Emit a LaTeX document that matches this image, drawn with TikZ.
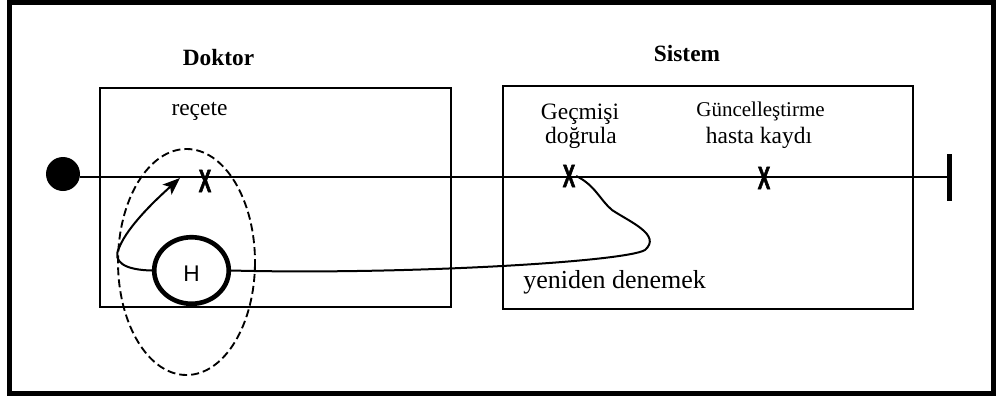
\documentclass[tikz,border=0pt]{standalone}
\usepackage{fontspec}
\setmainfont{Liberation Serif}
\setsansfont{Liberation Sans}
\newfontfamily\markfont{Liberation Sans Bold}[FakeBold=2.5]
\usetikzlibrary{arrows.meta,shapes.geometric}

\begin{document}
\begin{tikzpicture}[x=0.75pt,y=0.75pt,yscale=-1,xscale=1,
    lane/.style={line width=1.3pt},
    lanetitle/.style={anchor=base, inner sep=0pt, font=\fontsize{17.5pt}{21pt}\selectfont\bfseries},
    steptext/.style={anchor=base, inner sep=0pt, font=\fontsize{17.6pt}{21pt}\selectfont},
    xmark/.style={inner sep=0.5pt, font=\fontsize{24pt}{24pt}\selectfont\markfont},
    flow/.style={line width=1.5pt}]
    \useasboundingbox (0,0) rectangle (998,396);

    %Shape: Rectangle [frame]
    \draw [line width=3.75pt] (9.5,2.5) rectangle (993.5,393.5);
    %Shape: Rectangle [Doktor]
    \draw [lane] (100,88) rectangle (451,307);
    %Shape: Rectangle [Sistem]
    \draw [lane] (503,86) rectangle (913,309);

    %Shape: Circle [start]
    \node (start) [circle, fill=black, inner sep=0pt, minimum size=25.5pt] at (63,174) {};
    %Shape: Rectangle [stop]
    \node (stop) [rectangle, fill=black, inner sep=0pt, minimum width=3.75pt, minimum height=35.25pt] at (949.5,177.5) {};
    %Straight Lines [time line]
    \draw [lane] (start.east |- 0,177) -- (stop.west |- 0,177);

    %Shape: Ellipse [dashed]
    \draw [line width=1.4pt, dash pattern=on 6pt off 3pt] (186.5,262) ellipse [x radius=68.5, y radius=113];

    %Shape: Ellipse [H]
    \node (hist) [ellipse, draw, line width=3.5pt, inner sep=0pt, minimum width=55.9pt, minimum height=49.9pt,
        font=\fontsize{17pt}{17pt}\selectfont\sffamily, text height=17pt, text depth=0pt] at (191.5,270.5) {H};

    % Text Node
    \node (x1) [xmark] at (205,181) {\scalebox{0.58}[1]{X}};
    % Text Node
    \node (x2) [xmark] at (569,176) {\scalebox{0.58}[1]{X}};
    % Text Node
    \node (x3) [xmark] at (764,178) {\scalebox{0.58}[1]{X}};
    \coordinate (back) at (180,178);

    % Text Node
    \node (doktor) [lanetitle] at (218.5,65) {Doktor};
    % Text Node
    \node (sistem) [lanetitle] at (687,61) {Sistem};
    % Text Node
    \node (recete) [steptext] at (199.5,115) {reçete};
    % Text Node
    \node (gecmisi) [steptext] at (580,119) {Geçmişi};
    % Text Node
    \node (dogrula) [steptext] at (581,143) {doğrula};
    % Text Node
    \node (guncel) [steptext, font=\fontsize{15.75pt}{19pt}\selectfont] at (760.5,116) {Güncelleştirme};
    % Text Node
    \node (kayit) [steptext] at (759,143) {hasta kaydı};
    % Text Node
    \node (yeniden) [steptext, anchor=base west, font=\fontsize{19.5pt}{22pt}\selectfont] at (523,288) {yeniden denemek};

    %Curve Lines [back to prescription]
    \draw [flow, -{Stealth[length=13pt, width=10pt, inset=3pt]}] (hist.west) .. controls (125,270) and (112,262) .. (119,248) .. controls (128,225) and (160,196) .. (back);
    %Curve Lines [retry]
    \draw [flow] (hist.east) .. controls (400,275) and (625,262) .. (645,250) .. controls (662,235) and (630,222) .. (612,210) .. controls (600,200) and (595,185) .. (x2.east);
\end{tikzpicture}
\end{document}
